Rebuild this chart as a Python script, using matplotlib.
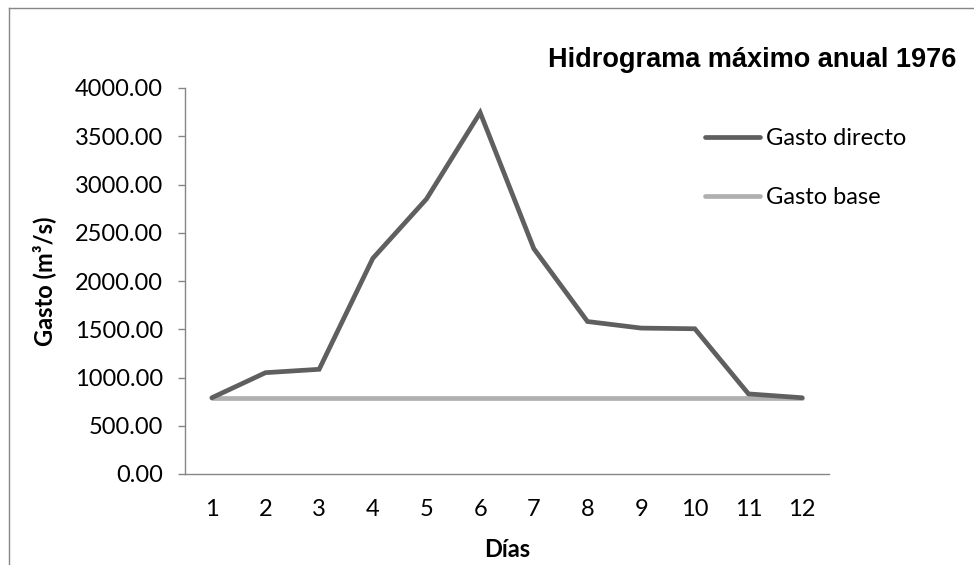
import numpy as np
import matplotlib
matplotlib.use("Agg")
import matplotlib.pyplot as plt
from matplotlib.lines import Line2D
from matplotlib.ticker import FormatStrFormatter

dias = [1, 2, 3, 4, 5, 6, 7, 8, 9, 10, 11, 12]
gasto_directo = [790, 1050, 1085, 2235, 2850, 3745, 2335, 1580, 1512, 1505, 830, 790]
gasto_base = [790, 790, 790, 790, 790, 790, 790, 790, 790, 790, 790, 790]
yticks = [0, 500, 1000, 1500, 2000, 2500, 3000, 3500, 4000]

plt.rcParams['font.family'] = ['Lato', 'DejaVu Sans']
FS = 17

fig = plt.figure(figsize=(9.74, 5.65), dpi=100)
ax = fig.add_axes([185/974, 1-474/565, 644/974, 386/565])

ax.plot(dias, gasto_directo, color='#5f5f5f', lw=3.4, solid_capstyle='round',
        solid_joinstyle='miter', label='Gasto directo', zorder=3)
ax.plot(dias, gasto_base, color='#b0b0b0', lw=3.4, solid_capstyle='round',
        label='Gasto base', zorder=2)

ax.set_xlim(0.5, 12.5)
ax.set_ylim(0, 4000)
ax.set_xticks(dias)
ax.set_yticks(yticks)
ax.yaxis.set_major_formatter(FormatStrFormatter('%.2f'))
ax.tick_params(axis='x', length=0, pad=18, labelsize=FS)
ax.tick_params(axis='y', length=5, width=1, color='#868686', pad=11, labelsize=FS)

for s in ['top', 'right']:
    ax.spines[s].set_visible(False)
for s in ['left', 'bottom']:
    ax.spines[s].set_color('#868686')
    ax.spines[s].set_linewidth(1.0)

ax.set_xlabel('Días', fontsize=FS, fontweight='bold', labelpad=13)
ax.set_ylabel('Gasto (m³/s)', fontsize=FS, fontweight='bold', labelpad=13)

fig.text(752/974, 1-60/565, 'Hidrograma máximo anual 1976', ha='center', va='center',
         fontsize=19.5, fontweight='bold', family='Liberation Sans')

ax.legend(loc='center left', bbox_to_anchor=(705/974, 1-168/565),
          bbox_transform=fig.transFigure, frameon=False, fontsize=FS,
          handlelength=2.35, handletextpad=0.25, labelspacing=1.6, borderaxespad=0,
          borderpad=0)

# chart outer frame
fig.add_artist(Line2D([8.5/974, 8.5/974], [0, 1-7.5/565], color='#868686', lw=1.0,
                      transform=fig.transFigure))
fig.add_artist(Line2D([8.5/974, 1], [1-7.5/565, 1-7.5/565], color='#868686', lw=1.0,
                      transform=fig.transFigure))

fig.savefig('out.png', dpi=100)
